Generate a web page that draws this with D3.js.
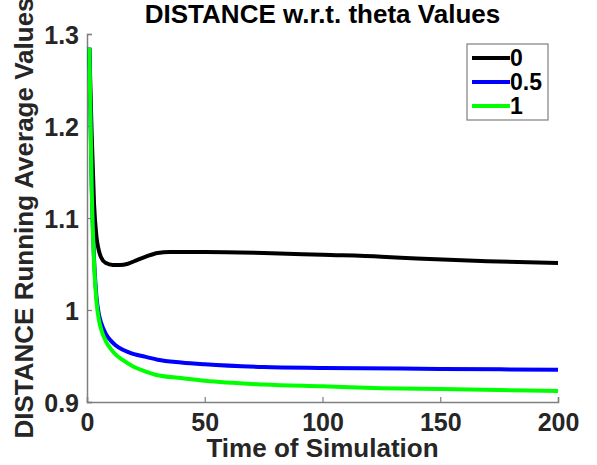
<!DOCTYPE html>
<html>
<head>
<meta charset="utf-8">
<script src="https://cdn.jsdelivr.net/npm/d3@7"></script>
<style>
  body { margin: 0; background: #fff; }
  text { font-family: "Liberation Sans", Arial, sans-serif; font-weight: bold; }
</style>
</head>
<body>
<div id="chart"></div>
<script>
// series (time, running average)
var seriesNames = ['0', '0.5', '1'];
var seriesColors = ['#000000', '#0000ff', '#00ff00'];

var theta0 = [[1,1.285],[2,1.19],[3,1.115],[4,1.08],[5,1.065],[6,1.057],[8,1.051],[11,1.049],[14,1.049],
  [17,1.05],[20,1.053],[25,1.058],[30,1.062],[35,1.063],[50,1.063],[75,1.062],[100,1.06],
  [125,1.058],[140,1.056],[170,1.053],[200,1.051]];
var theta05 = [[1,1.285],[2,1.135],[3,1.055],[4,1.015],[5,0.996],[6,0.986],[8,0.974],[10,0.967],
  [12,0.962],[15,0.957],[20,0.952],[25,0.949],[30,0.946],[40,0.943],[50,0.941],[75,0.938],
  [100,0.937],[150,0.936],[200,0.935]];
var theta1 = [[1,1.285],[2,1.13],[3,1.05],[4,1.01],[5,0.99],[6,0.979],[8,0.966],[10,0.958],
  [12,0.952],[15,0.946],[20,0.938],[25,0.933],[30,0.929],[40,0.926],[50,0.923],[75,0.919],
  [100,0.917],[125,0.915],[150,0.914],[175,0.913],[200,0.912]];

var xTicks = [0, 50, 100, 150, 200];
var yTicks = [0.9, 1, 1.1, 1.2, 1.3];

var width = 597, height = 465;
var mLeft = 87, mRight = 558, mTop = 34, mBottom = 402;

var svg = d3.select('#chart').append('svg')
    .attr('width', width)
    .attr('height', height);

var x = d3.scaleLinear().domain([0, 200]).range([mLeft, mRight]);
var y = d3.scaleLinear().domain([0.9, 1.3]).range([mBottom, mTop]);

// axes, ticks pointing inward
var xAxis = svg.append('g')
    .attr('transform', 'translate(0,' + mBottom + ')')
    .call(d3.axisBottom(x).tickValues(xTicks).tickSize(-5).tickPadding(11).tickFormat(d3.format('d')));
var yAxis = svg.append('g')
    .attr('transform', 'translate(' + mLeft + ',0)')
    .call(d3.axisLeft(y).tickValues(yTicks).tickSize(-5).tickPadding(8).tickFormat(function (d) { return d === 1 ? '1' : d3.format('.1f')(d); }));

[xAxis, yAxis].forEach(function (g) {
  g.select('.domain').attr('stroke', '#7f7f7f').attr('stroke-width', 1.5);
  g.selectAll('.tick line').attr('stroke', '#7f7f7f').attr('stroke-width', 1.2);
  g.selectAll('.tick text')
    .attr('fill', '#262626')
    .style('font-size', '25px')
    .style('font-family', '"Liberation Sans", Arial, sans-serif')
    .style('font-weight', 'bold');
});
xAxis.selectAll('.tick text').attr('dy', '0.71em');
yAxis.selectAll('.tick text').attr('dy', '0.36em');

var line = d3.line()
    .x(function (d) { return x(d[0]); })
    .y(function (d) { return y(d[1]); })
    .curve(d3.curveMonotoneX);

[theta0, theta05, theta1].forEach(function (s, i) {
  svg.append('path')
      .datum(s)
      .attr('fill', 'none')
      .attr('stroke', seriesColors[i])
      .attr('stroke-width', 4)
      .attr('stroke-linejoin', 'round')
      .attr('d', line);
});

// title and axis labels
svg.append('text')
    .attr('x', (mLeft + mRight) / 2)
    .attr('y', 23)
    .attr('text-anchor', 'middle')
    .attr('fill', '#000')
    .style('font-size', '26px')
    .text('DISTANCE w.r.t. theta Values');

svg.append('text')
    .attr('x', (mLeft + mRight) / 2)
    .attr('y', 457)
    .attr('text-anchor', 'middle')
    .attr('fill', '#262626')
    .style('font-size', '26px')
    .text('Time of Simulation');

svg.append('text')
    .attr('transform', 'translate(33,' + ((mTop + mBottom) / 2) + ') rotate(-90)')
    .attr('text-anchor', 'middle')
    .attr('fill', '#262626')
    .style('font-size', '26px')
    .text('DISTANCE Running Average Values');

// legend
var legend = svg.append('g').attr('transform', 'translate(467,44)');
legend.append('rect')
    .attr('width', 81).attr('height', 76)
    .attr('fill', '#fff')
    .attr('stroke', '#7f7f7f')
    .attr('stroke-width', 1.2);
seriesNames.forEach(function (name, i) {
  var yy = 14 + i * 24;
  legend.append('line')
      .attr('x1', 5).attr('x2', 43)
      .attr('y1', yy).attr('y2', yy)
      .attr('stroke', seriesColors[i])
      .attr('stroke-width', 4);
  legend.append('text')
      .attr('x', 43).attr('y', yy)
      .attr('dy', '0.36em')
      .attr('fill', '#000')
      .style('font-size', '23px')
      .text(name);
});
</script>
</body>
</html>
